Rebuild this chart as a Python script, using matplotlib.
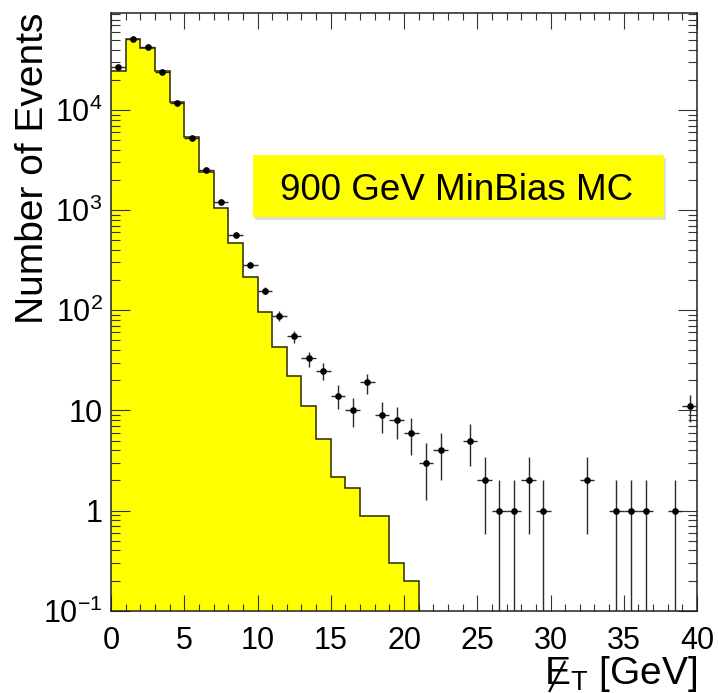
import numpy as np
import matplotlib
matplotlib.use("Agg")
import matplotlib.pyplot as plt
from matplotlib.patches import Rectangle
from matplotlib.lines import Line2D
from matplotlib.transforms import IdentityTransform
from matplotlib.ticker import MultipleLocator, LogLocator, NullFormatter

plt.rcParams["font.family"] = ["Liberation Sans", "DejaVu Sans"]
plt.rcParams["mathtext.fontset"] = "custom"
plt.rcParams["mathtext.rm"] = "Liberation Sans"
plt.rcParams["mathtext.it"] = "Liberation Sans:italic"
plt.rcParams["mathtext.bf"] = "Liberation Sans:bold"

# 1 GeV bins, 0..40 GeV
bin_edges = np.arange(0, 41)

# MC (yellow histogram)
mc_counts = [24800, 50700, 41900, 24400, 12000, 5390, 2410, 1050, 470, 213,
             97, 42.7, 22.1, 11.1, 5.2, 2.15, 1.67, 0.88, 0.88, 0.30,
             0.197, 0, 0, 0, 0, 0, 0, 0, 0, 0,
             0, 0, 0, 0, 0, 0, 0, 0, 0, 0]

# data points (event counts)
data_counts = [26800, 51500, 42500, 23900, 11700, 5270, 2500, 1210, 562, 285,
               157, 88, 55, 33, 25, 14, 10, 19, 9, 8,
               6, 3, 4, 0, 5, 2, 1, 1, 2, 1,
               0, 0, 2, 0, 1, 1, 1, 0, 1, 11]

box_text = "900 GeV MinBias MC"
y_ticks = [0.1, 1, 10, 100, 1000, 10000]
y_tick_labels = [r"$10^{-1}$", "1", "10", r"$10^{2}$", r"$10^{3}$", r"$10^{4}$"]

W, H = 718, 693
fig = plt.figure(figsize=(W / 100, H / 100), dpi=100)
ax = fig.add_axes([0.1546, 0.1188, 0.8162, 0.8624])

mc = np.array(mc_counts, dtype=float)
data = np.array(data_counts, dtype=float)
centers = 0.5 * (bin_edges[:-1] + bin_edges[1:])

ax.stairs(mc, bin_edges, fill=True, color="#ffff00", baseline=1e-3, zorder=1)
ax.stairs(mc, bin_edges, color="#2a2a00", lw=1.1, baseline=None, zorder=2)

m = data > 0
ax.errorbar(centers[m], data[m], xerr=0.5, yerr=np.sqrt(data[m]), fmt="o", ms=3.8,
            color="black", ecolor="#2b2b2b", elinewidth=1.0, capsize=0, zorder=3)

ax.set_yscale("log")
ax.set_xlim(0, 40)
ax.set_ylim(0.1, 9.3e4)
ax.set_yticks(y_ticks, labels=y_tick_labels)
ax.yaxis.set_minor_locator(LogLocator(base=10, subs=np.arange(2, 10)))
ax.yaxis.set_minor_formatter(NullFormatter())
ax.xaxis.set_major_locator(MultipleLocator(5))
ax.xaxis.set_minor_locator(MultipleLocator(1))

ax.tick_params(axis="both", which="both", direction="in", top=True, right=True,
               color="#333333", width=0.8, labelsize=22)
ax.tick_params(axis="x", which="major", length=11.5, pad=11)
ax.tick_params(axis="x", which="minor", length=5)
ax.tick_params(axis="y", which="major", length=13.5, pad=6)
ax.tick_params(axis="y", which="minor", length=6.5)
for s in ax.spines.values():
    s.set_linewidth(1.1)
    s.set_color("#222222")

ax.set_ylabel("Number of Events", fontsize=28, loc="top")
ax.yaxis.set_label_coords(-0.102, 1.0)

# label box
ax.add_patch(Rectangle((0.2463, 0.6532), 0.7014, 0.1042, transform=ax.transAxes,
                       facecolor="#dcdcdc", edgecolor="none", zorder=4))
ax.add_patch(Rectangle((0.2423, 0.6582), 0.7014, 0.1042, transform=ax.transAxes,
                       facecolor="#ffff00", edgecolor="none", zorder=5))
ax.text(0.5904, 0.687, box_text, transform=ax.transAxes, ha="center", va="baseline",
        fontsize=26.5, zorder=6)

# x label: missing E_T, slash drawn over the E
base_y = H - 684
xlab = fig.text(697 / W, base_y / H, r"E$_{\mathrm{T}}$ [GeV]", ha="right",
                va="baseline", fontsize=28)
fig.canvas.draw()
bb = xlab.get_window_extent(fig.canvas.get_renderer())
x0 = bb.x0
fig.add_artist(Line2D([x0 + 6, x0 + 21], [base_y - 7, base_y + 22], color="black",
                      lw=1.6, transform=IdentityTransform()))

fig.savefig("out.png", dpi=100)
